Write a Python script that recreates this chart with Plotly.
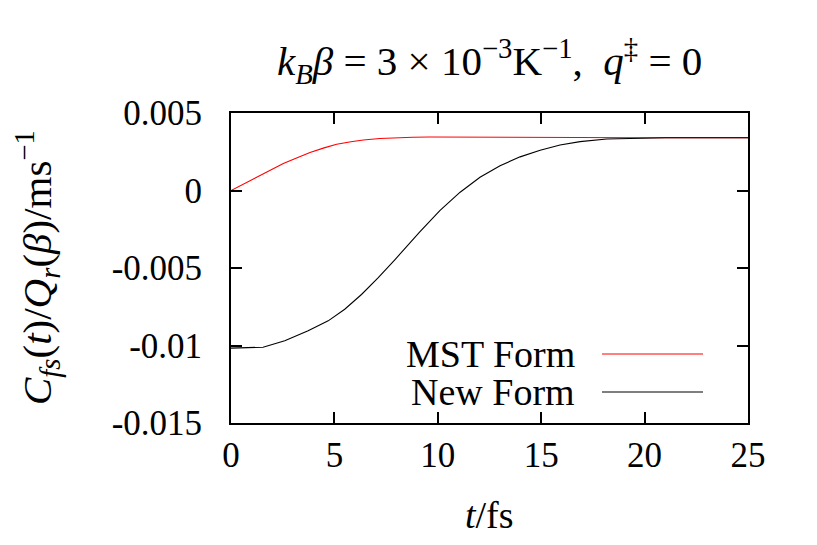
import plotly.graph_objects as go

# ---- data ----
series_names = ["MST Form", "New Form"]
series_colors = ["#ff0000", "#000000"]

t_mst = [0, 0.6, 1.25, 1.9, 2.53, 3.2, 3.82, 4.5, 5.11, 5.8, 6.4, 7.2, 8.0, 8.8, 9.6, 11.0, 12.5, 15.0, 20.0, 25.0]
v_mst = [0.0, 0.00042, 0.00085, 0.00131, 0.00174, 0.00212, 0.00245, 0.00275, 0.00298, 0.00315, 0.00326, 0.00335, 0.0034, 0.00344, 0.00345, 0.00344, 0.00342, 0.00341, 0.0034, 0.0034]

t_new = [0, 0.8, 1.55, 2.6, 3.73, 4.70, 5.50, 6.31, 7.11, 7.92, 8.6, 9.14, 10.11, 11.08, 12.04, 13.01, 13.98, 14.95, 15.91, 16.88, 18.17, 19.78, 21.0, 23.0, 25.0]
v_new = [-0.01017, -0.01015, -0.01011, -0.00969, -0.00905, -0.00841, -0.00766, -0.00671, -0.00564, -0.00447, -0.00345, -0.00266, -0.00128, -0.00011, 0.00085, 0.0016, 0.00217, 0.0026, 0.00294, 0.00315, 0.00332, 0.00339, 0.0034, 0.0034, 0.0034]

x_ticks = [0, 5, 10, 15, 20, 25]
x_ticktext = ["0", "5", "10", "15", "20", "25"]
y_ticks = [0.005, 0.0, -0.005, -0.01, -0.015]
y_ticktext = ["0.005", "0", "-0.005", "-0.01", "-0.015"]

title_text = "<i>k</i><sub><i>B</i></sub><i>β</i> = 3 × 10<sup>−3</sup>K<sup>−1</sup>,  <i>q</i><sup>‡</sup> = 0"
x_title = "<i>t</i>/fs"
y_title = "<i>C</i><sub><i>fs</i></sub>(<i>t</i>)/<i>Q</i><sub><i>r</i></sub>(<i>β</i>)/ms<sup>−1</sup>"

FONT = "Liberation Serif"

fig = go.Figure()
for name, color, xs, ys in [(series_names[0], series_colors[0], t_mst, v_mst),
                            (series_names[1], series_colors[1], t_new, v_new)]:
    fig.add_trace(go.Scatter(x=xs, y=ys, mode="lines", name=name,
                             line=dict(color=color, width=1.1),
                             showlegend=False))

axis_common = dict(showline=True, linecolor="black", linewidth=1.8, mirror="ticks",
                   ticks="inside", ticklen=11, tickwidth=1.6, tickcolor="black",
                   showgrid=False, zeroline=False,
                   tickfont=dict(family=FONT, size=35, color="black"))

fig.update_xaxes(range=[0, 25], tickvals=x_ticks, ticktext=x_ticktext,
                 ticklabelstandoff=0, **axis_common)
fig.update_yaxes(range=[-0.015, 0.005], tickvals=y_ticks, ticktext=y_ticktext,
                 ticklabelstandoff=20, **axis_common)

annotations = [
    dict(text=title_text, xref="paper", yref="paper", x=0.5, y=1, yshift=52,
         xanchor="center", yanchor="middle", showarrow=False,
         font=dict(family=FONT, size=41, color="black")),
    dict(text=x_title, xref="paper", yref="paper", x=0.5, y=0, yshift=-92,
         xanchor="center", yanchor="middle", showarrow=False,
         font=dict(family=FONT, size=38, color="black")),
    dict(text=y_title, xref="paper", yref="paper", x=0, y=0.5, xshift=-194,
         xanchor="center", yanchor="middle", textangle=-90, showarrow=False,
         font=dict(family=FONT, size=41, color="black")),
]

# legend drawn manually (text on the left, sample line on the right, gnuplot style)
legend_y = [354, 392]
shapes = []
for i, (name, color) in enumerate(zip(series_names, series_colors)):
    yp = 1 - (legend_y[i] - 113) / 310
    annotations.append(dict(text=name, xref="paper", yref="paper", x=(577 - 231) / 517, y=yp,
                            xanchor="right", yanchor="middle", showarrow=False,
                            font=dict(family=FONT, size=38, color="black")))
    shapes.append(dict(type="line", xref="paper", yref="paper",
                       x0=(602 - 231) / 517, x1=(703 - 231) / 517, y0=yp, y1=yp,
                       line=dict(color=color, width=1.1)))

fig.update_layout(width=817, height=545,
                  margin=dict(l=223, r=77, t=105, b=130),
                  paper_bgcolor="white", plot_bgcolor="white",
                  annotations=annotations, shapes=shapes,
                  font=dict(family=FONT, color="black"))

fig.write_html("out.html")
